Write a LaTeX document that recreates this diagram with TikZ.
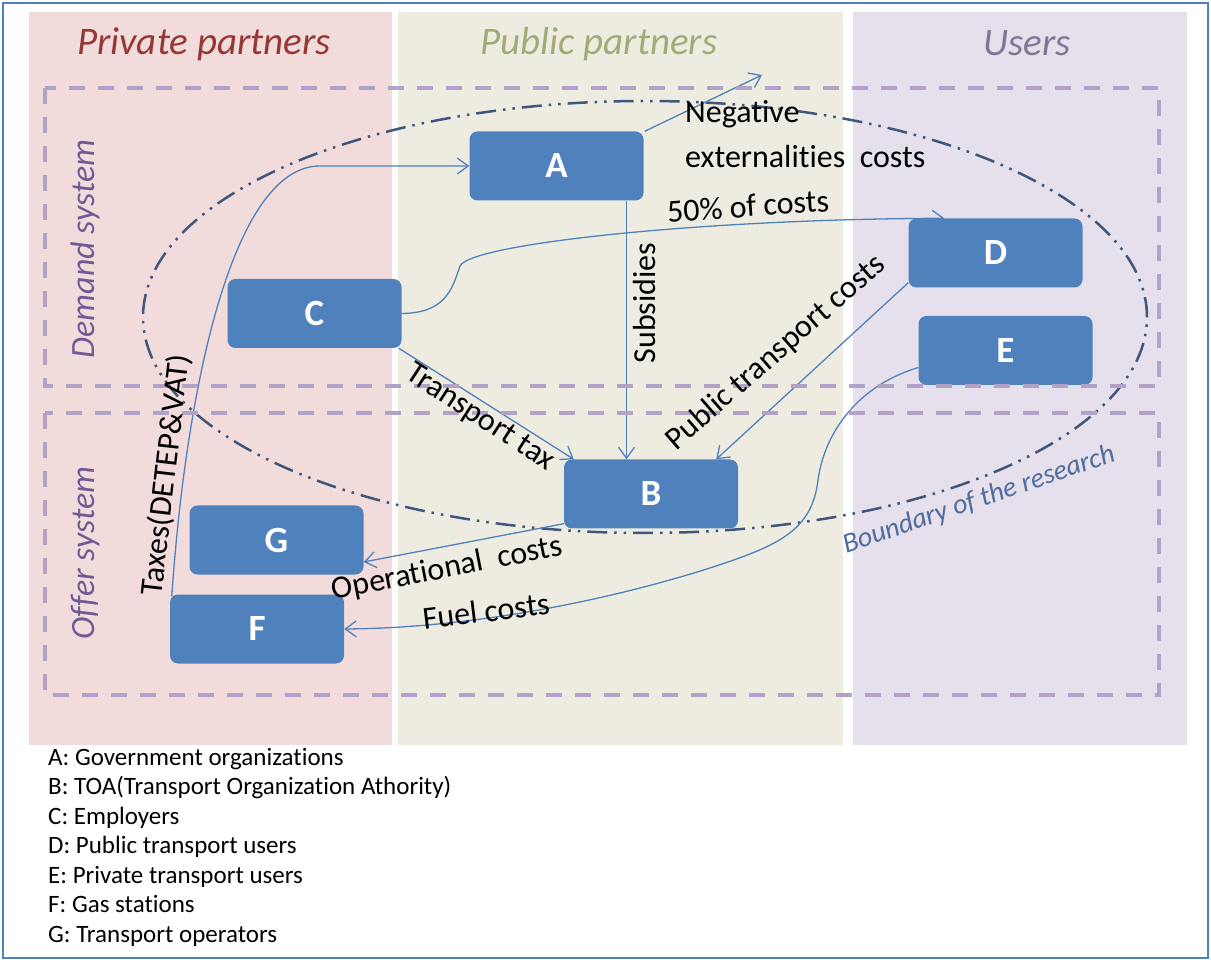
\documentclass[tikz,border=0pt]{standalone}
\usepackage{fontspec}
\setmainfont{Carlito}[Ligatures=NoCommon]
\usetikzlibrary{arrows.meta,calc}
\definecolor{cpink}{RGB}{242,220,219}
\definecolor{cbeige}{RGB}{238,236,225}
\definecolor{clav}{RGB}{229,224,236}
\definecolor{boxblue}{RGB}{79,129,189}
\definecolor{lineblue}{RGB}{79,129,189}
\definecolor{dashlav}{RGB}{179,162,199}
\definecolor{ellcol}{RGB}{64,86,122}
\definecolor{tred}{RGB}{149,55,53}
\definecolor{tgreen}{RGB}{160,172,118}
\definecolor{tpurple}{RGB}{128,118,150}
\definecolor{sysp}{RGB}{112,90,150}
\definecolor{bndcol}{RGB}{79,108,156}
\definecolor{framecol}{RGB}{79,129,189}
\pgfdeclarelayer{bg}
\pgfdeclarelayer{mid}
\pgfsetlayers{bg,mid,main}
\begin{document}
\begin{tikzpicture}[x=1pt,y=-1pt,
 box/.style={fill=boxblue, rounded corners=8pt, minimum width=174pt, minimum height=69pt, inner sep=0pt, text=white, font=\fontsize{37}{40}\selectfont\bfseries},
 conn/.style={draw=lineblue, line width=1.3pt, -{Straight Barb[length=11pt,width=16pt]}},
 lab/.style={inner sep=0pt, font=\fontsize{32}{38}\selectfont},
 title/.style={inner sep=0pt, anchor=base, font=\fontsize{39}{45}\selectfont\itshape},
 sys/.style={inner sep=0pt, rotate=90, text=sysp, font=\fontsize{34}{38}\selectfont\itshape},
 sysbox/.style={draw=dashlav, line width=3.5pt, dash pattern=on 16pt off 13pt},
 ell/.style={draw=ellcol, line width=2.5pt, dash pattern=on 20pt off 7pt on 2.5pt off 7pt on 2.5pt off 7pt},
 legend/.style={inner sep=0pt, anchor=base west, font=\fontsize{25}{29}\selectfont}
]
\useasboundingbox (0,0) rectangle (1211,965);
\begin{pgfonlayer}{bg}
\fill[white] (0,0) rectangle (1211,965);
\fill[cpink] (29,12) rectangle (392,745);
\fill[cbeige] (398,12) rectangle (843,745);
\fill[clav] (853,12) rectangle (1187,745);
\draw[framecol, line width=2pt] (2.5,3.5) rectangle (1208,958);
\node[title, text=tred] (tpriv) at (204,55) {Private partners};
\node[title, text=tgreen] (tpub) at (599,55) {Public partners};
\node[title, text=tpurple] (tusr) at (1027,56) {Users};
\end{pgfonlayer}

% boxes
\node[box] (A) at (556.5,166) {A};
\node[box] (B) at (651,494) {B};
\node[box] (C) at (314.5,313.5) {C};
\node[box] (D) at (995.5,253) {D};
\node[box] (E) at (1005.5,350.5) {E};
\node[box] (G) at (276.5,540) {G};
\node[box] (F) at (257,629) {F};

\coordinate (negend) at (762,75);

\begin{pgfonlayer}{mid}
\draw[ell] (645,317) ellipse [x radius=502pt, y radius=216pt];
% F -> A
\draw[conn] ([xshift=2pt,yshift=-2pt]F.north west) .. controls (185,400) and (230,166) .. (320,166) -- (A.west);
% A -> negative externalities
\draw[conn] ([xshift=1pt]A.north east) -- (negend);
% C -> D
\draw[conn] (C.east) .. controls (445,313) and (452,290) .. (460,266) .. controls (470,244) and (700,219) .. ([xshift=36pt]D.north west);
% A -> B
\draw[conn] ([xshift=70pt]A.south) -- ([xshift=70pt]A.south |- B.north);
% C -> B
\draw[conn] ([xshift=-3pt]C.south east) -- ([xshift=10pt]B.north west);
% D -> B
\draw[conn] ([yshift=5pt]D.south west) -- ([xshift=-22pt]B.north east);
% B -> G
\draw[conn] ([yshift=5pt]B.south west) -- ([yshift=-22pt]G.east);
% E -> F
\draw[conn] ([yshift=-17pt]E.west) .. controls (860,385) and (825,430) .. (818,480) .. controls (812,530) and (780,545) .. (713,567) .. controls (620,597) and (480,628) .. (F.east);
\end{pgfonlayer}

% system boxes
\draw[sysbox] (45,88) rectangle (1159,386);
\draw[sysbox] (45,413) rectangle (1159,695);
\node[sys] (dsys) at (85,249) {Demand system};
\node[sys] (osys) at (86,553) {Offer system};

% labels
\node[lab, anchor=base west] (neg1) at (685,123) {Negative};
\node[lab, anchor=base west] (neg2) at (685,168) {externalities\ \ costs};
\node[lab, rotate=4] (l50) at (748,206) {50\% of costs};
\node[lab, rotate=90] (lsub) at (645,303) {Subsidies};
\node[lab, rotate=-33] (ltt) at (480,418) {Transport tax};
\node[lab, rotate=41] (lptc) at (776,353) {Public transport costs};
\node[lab, rotate=11] (lop) at (447,569) {Operational\ \ costs};
\node[lab, rotate=7] (lfuel) at (486,611) {Fuel costs};
\node[lab, rotate=83.5] (ltax) at (166,475) {Taxes(DETEP\&VAT)};
\node[inner sep=0pt, rotate=19, text=bndcol, font=\fontsize{28}{32}\selectfont\itshape] (lbnd) at (979,500) {Boundary of the research};

% legend
\node[legend] (legA) at (48,765) {A: Government organizations};
\node[legend] (legB) at (48,794.5) {B: TOA(Transport Organization Athority)};
\node[legend] (legC) at (48,824) {C: Employers};
\node[legend] (legD) at (48,853.5) {D: Public transport users};
\node[legend] (legE) at (48,883) {E: Private transport users};
\node[legend] (legF) at (48,912.5) {F: Gas stations};
\node[legend] (legG) at (48,942) {G: Transport operators};
\end{tikzpicture}
\end{document}
